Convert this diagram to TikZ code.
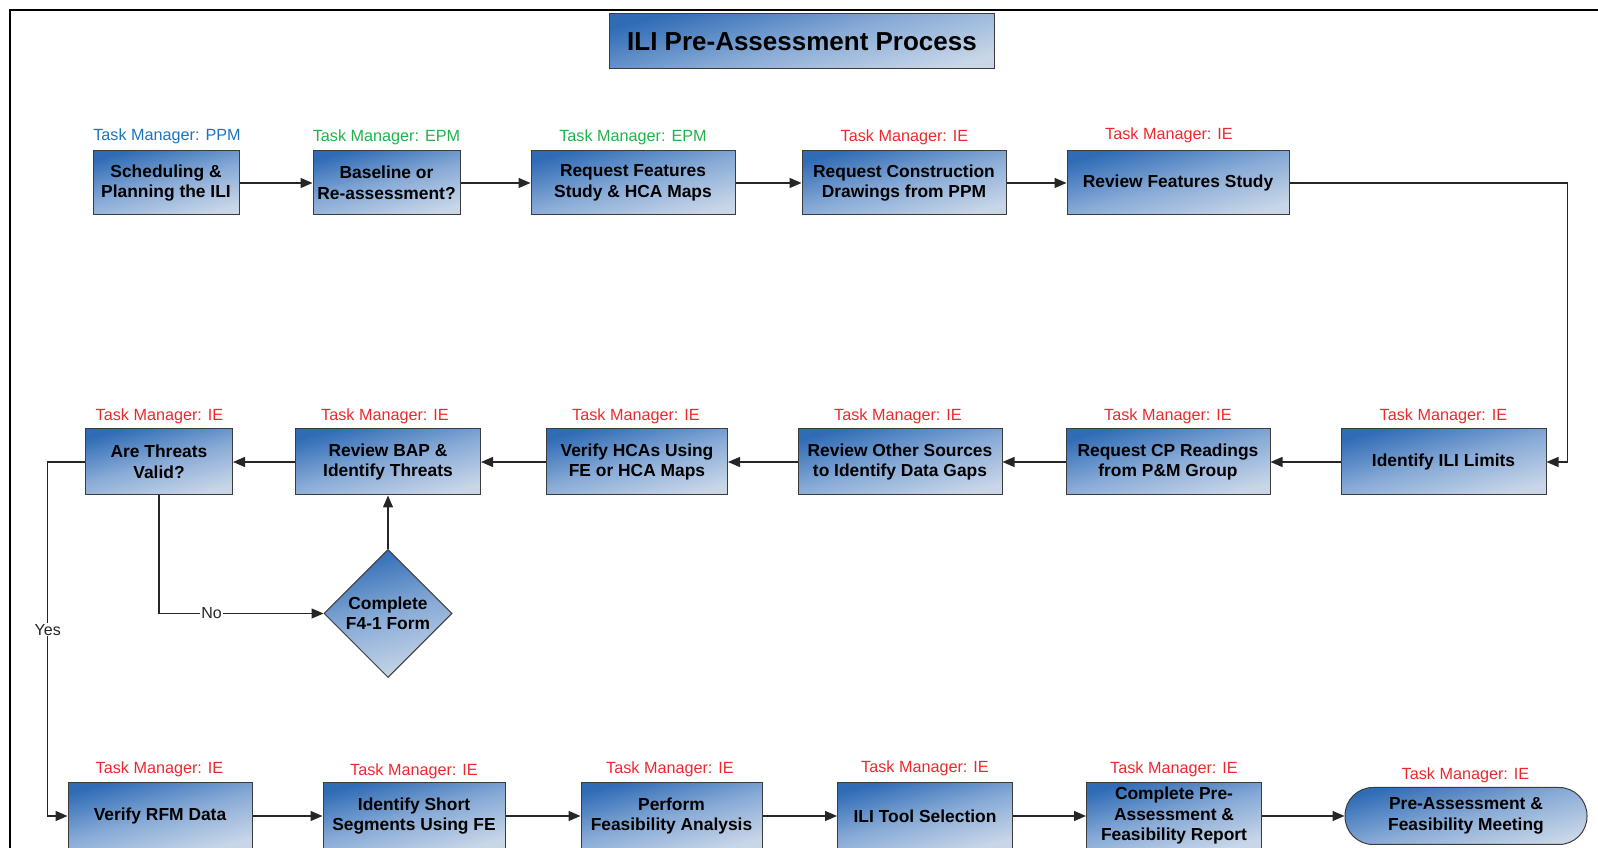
\documentclass[tikz,border=0pt]{standalone}
\usepackage{fontspec}
\setmainfont{Liberation Sans}
\usetikzlibrary{arrows.meta,shapes.geometric}

\definecolor{boxdark}{RGB}{48,108,182}
\definecolor{boxmid}{RGB}{135,170,214}
\definecolor{boxlight}{RGB}{200,214,232}
\definecolor{ppmblue}{RGB}{30,115,190}
\definecolor{epmgreen}{RGB}{34,177,76}
\definecolor{iered}{RGB}{237,40,45}
\definecolor{edgegray}{RGB}{60,60,60}

\tikzset{
  task/.style={draw=edgegray, line width=1pt, rectangle, minimum height=64pt,
    inner sep=2pt, align=center, font=\fontsize{17.4}{20.5}\selectfont\bfseries,
    left color=boxdark, right color=boxlight, middle color=boxmid, shading angle=15},
  decision/.style={task, diamond, aspect=1, minimum width=128pt, minimum height=128pt, inner sep=0pt},
  terminal/.style={task, rounded corners=28pt, minimum height=57pt},
  tm/.style={font=\fontsize{16.2}{19}\selectfont, inner sep=0pt, text=iered},
  choice/.style={font=\fontsize{16}{19}\selectfont, fill=white, inner sep=1pt},
  flow/.style={->, line width=1.3pt, black!85},
}

\begin{document}
\begin{tikzpicture}[x=1pt, y=1pt, >={Triangle[length=12pt,width=10pt]}]
\useasboundingbox (0,0) rectangle (1598,848);
\draw [line width=2.5pt] (10,-20) -- (10,838) -- (1620,838);

\node [task, minimum width=385pt, minimum height=55pt, font=\fontsize{26}{30}\selectfont\bfseries] (title) at (802,806.5) {ILI Pre-Assessment Process};

% first row
\node [task, minimum width=146pt] (sched) at (166,665) {Scheduling \&\\Planning the ILI};
\node [task, minimum width=147pt] (base) at (386.5,665) {Baseline or\\Re-assessment?};
\node [task, minimum width=204pt] (reqfeat) at (633,665) {Request Features\\Study \& HCA Maps};
\node [task, minimum width=204pt] (reqdraw) at (904,665) {Request Construction\\Drawings from PPM};
\node [task, minimum width=222pt] (revfeat) at (1178,665) {Review Features Study};
\node [tm, text=ppmblue] (tsched) at (167,712) {Task Manager: PPM};
\node [tm, text=epmgreen] (tbase) at (386.5,711) {Task Manager: EPM};
\node [tm, text=epmgreen] (treqfeat) at (633,711) {Task Manager: EPM};
\node [tm] (treqdraw) at (904.5,711) {Task Manager: IE};
\node [tm] (trevfeat) at (1169,713) {Task Manager: IE};

% second row
\node [task, minimum width=205pt, minimum height=66pt] (limits) at (1443.5,386) {Identify ILI Limits};
\node [task, minimum width=204pt, minimum height=66pt] (cpread) at (1168,386) {Request CP Readings\\from P\&M Group};
\node [task, minimum width=204pt, minimum height=66pt] (othersrc) at (900,386) {Review Other Sources\\to Identify Data Gaps};
\node [task, minimum width=181pt, minimum height=66pt] (verhca) at (637,386) {Verify HCAs Using\\FE or HCA Maps};
\node [task, minimum width=185pt, minimum height=66pt] (bap) at (388,386) {Review BAP \&\\Identify Threats};
\node [task, minimum width=147pt, minimum height=66pt] (threats) at (159,386) {Are Threats\\Valid?};
\foreach \n/\x in {limits/1443.5, cpread/1168, othersrc/898, verhca/636, bap/385, threats/159.5}
    \node [tm] (t\n) at (\x,432) {Task Manager: IE};

\node [decision] (form) at (388,234.5) {Complete\\F4-1 Form};

% third row
\node [task, minimum width=184pt, minimum height=66pt] (verrfm) at (160,32) {Verify RFM Data};
\node [task, minimum width=182pt, minimum height=66pt] (shortseg) at (414,32) {Identify Short\\Segments Using FE};
\node [task, minimum width=181pt, minimum height=66pt] (feas) at (671.5,32) {Perform\\Feasibility Analysis};
\node [task, minimum width=175pt, minimum height=66pt] (toolsel) at (925,32) {ILI Tool Selection};
\node [task, minimum width=175pt, minimum height=66pt] (report) at (1174,32) {Complete Pre-\\Assessment \&\\Feasibility Report};
\node [terminal, minimum width=242pt] (meeting) at (1466,32) {Pre-Assessment \&\\Feasibility Meeting};
\foreach \n/\x/\y in {verrfm/159.5/78.5, shortseg/414/76.5, feas/670/78.5, toolsel/925/79.6, report/1174/78.5, meeting/1465.5/72.5}
    \node [tm] (t\n) at (\x,\y) {Task Manager: IE};

% connectors
\foreach \a/\b in {sched/base, base/reqfeat, reqfeat/reqdraw, reqdraw/revfeat,
    limits/cpread, cpread/othersrc, othersrc/verhca, verhca/bap, bap/threats,
    verrfm/shortseg, shortseg/feas, feas/toolsel, toolsel/report, report/meeting}
    \draw [flow] (\a) -- (\b);
\coordinate (turn) at (1567.5,665);
\draw [flow] (revfeat.east) -- (turn) |- (limits.east);
\draw [flow] (form) -- (bap);
\draw [flow] (threats.south) |- node [choice, pos=0.66] (no) {No} (form.west);
\coordinate (yesturn) at (47.7,386);
\draw [flow] (threats.west) -- (yesturn) |- node [choice, pos=0.237] (yes) {Yes} (verrfm.west);
\end{tikzpicture}
\end{document}
